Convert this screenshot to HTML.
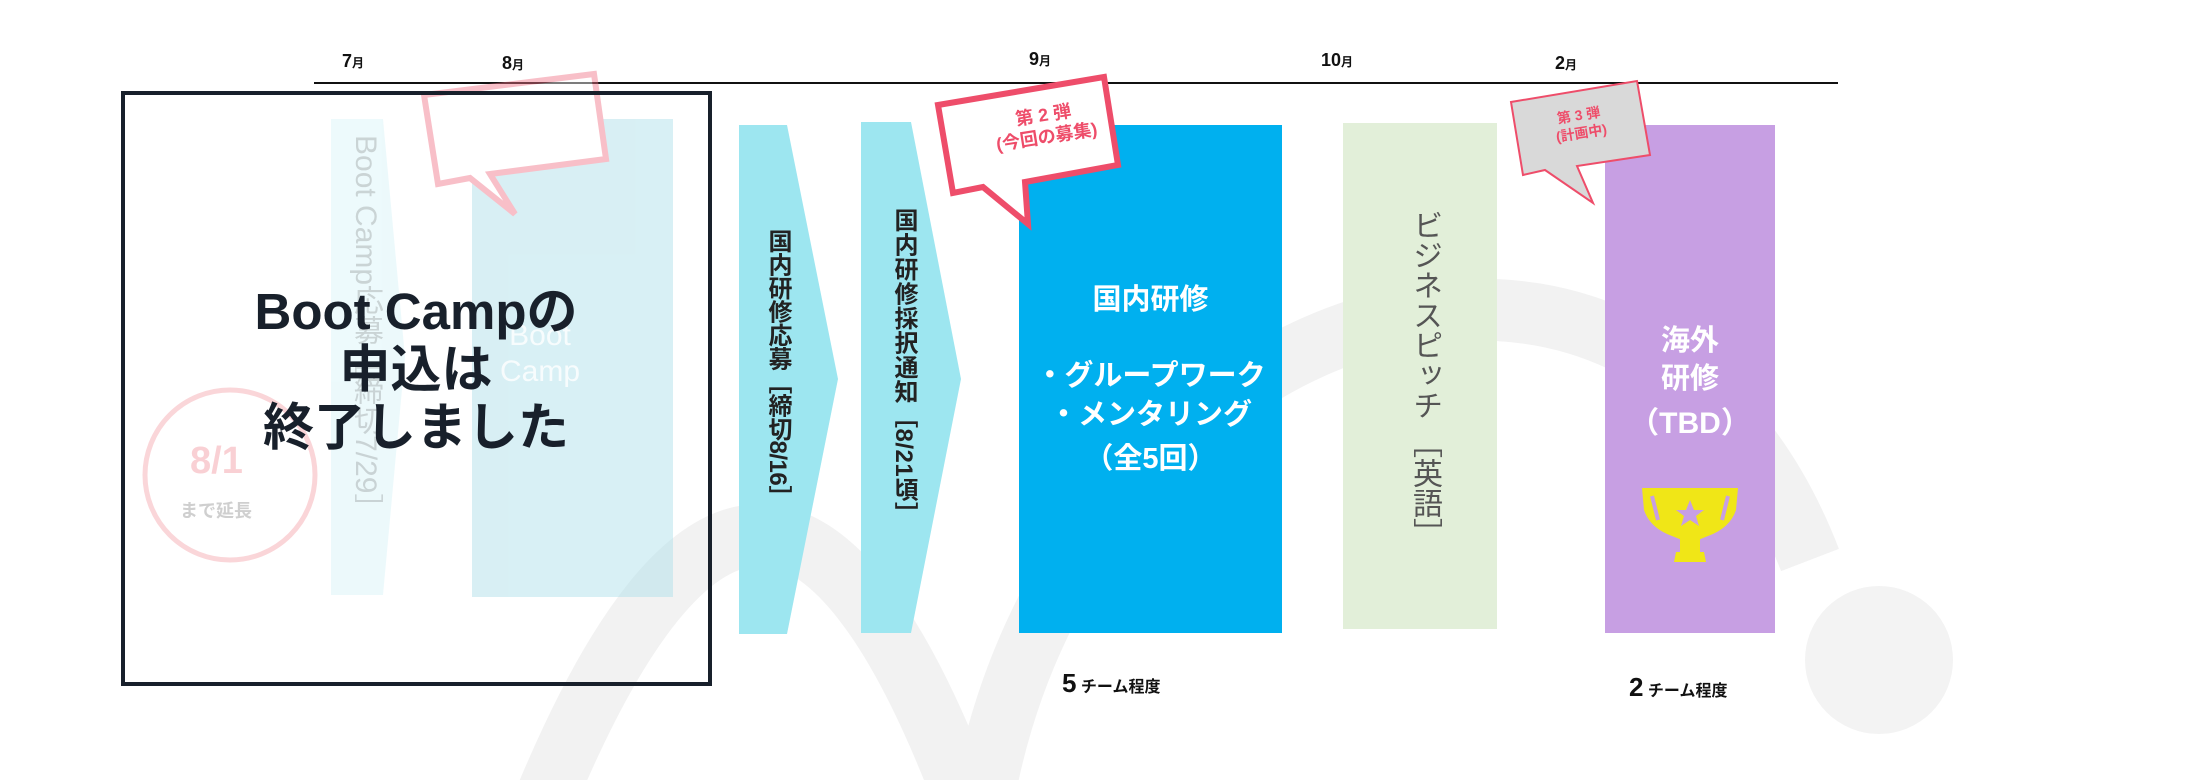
<!DOCTYPE html>
<html><head><meta charset="utf-8"><style>
html,body{margin:0;padding:0;background:#fff;}
#c{position:relative;width:2200px;height:780px;overflow:hidden;font-family:"Liberation Sans","Noto Sans CJK JP",sans-serif;}
.t{position:absolute;white-space:nowrap;}
.v{position:absolute;writing-mode:vertical-rl;white-space:nowrap;}
.m{font-weight:bold;font-size:18px;color:#111;}
.m small{font-size:12px;}
</style></head><body><div id="c">
<svg width="2200" height="780" style="position:absolute;left:0;top:0">
  <!-- background logo shapes -->
  <g fill="none" stroke="#f2f2f2" stroke-width="62">
    <path d="M 545 800 Q 765 270 965 800"/>
    <path d="M 985 790 C 1080 300, 1640 120, 1810 560"/>
  </g>
  <circle cx="1879" cy="660" r="74" fill="#f3f3f3"/>
  <!-- timeline -->
  <line x1="314" y1="83" x2="1838" y2="83" stroke="#111" stroke-width="2"/>
  <!-- faded old content -->
  <g opacity="0.45">
    <polygon points="331,119 383,119 405,357 383,595 331,595" fill="#d6f3f8"/>
    <rect x="472" y="119" width="201" height="478" fill="#a9dde8"/>
    <circle cx="230" cy="475" r="85" fill="none" stroke="#f5a3aa" stroke-width="5"/>
    <polygon points="424,95 594,74 606,159 490,174 515,214 470,178 438,184" fill="#fff" stroke="#f07386" stroke-width="6"/>
  </g>
  <!-- frame -->
  <rect x="123" y="93" width="587" height="591" fill="none" stroke="#18202b" stroke-width="4"/>
  <!-- arrows -->
  <polygon points="739,125 787,125 838,379 787,634 739,634" fill="#9de6f0"/>
  <polygon points="861,122 911,122 961,379 911,633 861,633" fill="#9de6f0"/>
  <!-- boxes -->
  <rect x="1019" y="125" width="263" height="508" fill="#00b0ef"/>
  <rect x="1343" y="123" width="154" height="506" fill="#e2efd9"/>
  <rect x="1605" y="125" width="170" height="508" fill="#c79fe3"/>
  <!-- callout 2 -->
  <polygon points="938,105 1104,77 1118,165 1025,182 1028,224 983,187 953,193" fill="#fff" stroke="#ee4d6a" stroke-width="6" stroke-linejoin="miter"/>
  <!-- callout 3 -->
  <polygon points="1511,102 1637,81 1650,155 1577,166 1593,203 1545,170 1523,175" fill="#d9d9d9" stroke="#ee4d6a" stroke-width="2"/>
  <!-- trophy -->
  <g fill="#f0e617">
    <path d="M1642,488 L1738,488 L1736,510 Q1730,528 1708,536 L1698,540 L1682,540 L1672,536 Q1650,528 1644,510 Z"/>
    <rect x="1680" y="538" width="20" height="14"/>
    <polygon points="1676,552 1704,552 1706,562 1674,562"/>
  </g>
  <path d="M1652,496 L1658,520 M1728,496 L1722,520" stroke="#c79fe3" stroke-width="4"/>
  <polygon points="1690,500 1694,510 1704,510 1696,516 1699,526 1690,520 1681,526 1684,516 1676,510 1686,510" fill="#c79fe3"/>
</svg>

<div class="t m" style="left:342px;top:51px">7<small>月</small></div>
<div class="t m" style="left:502px;top:53px">8<small>月</small></div>
<div class="t m" style="left:1029px;top:49px">9<small>月</small></div>
<div class="t m" style="left:1321px;top:50px">10<small>月</small></div>
<div class="t m" style="left:1555px;top:53px">2<small>月</small></div>

<!-- faded texts -->
<div class="v" style="left:343px;top:135px;font-size:30px;color:#666;opacity:0.25">Boot Camp応募［締切7/29］</div>
<div class="t" style="left:500px;top:318px;font-size:30px;color:#fff;opacity:0.8;line-height:36px;text-align:center">Boot<br>Camp</div>
<div class="t" style="left:190px;top:440px;font-size:38px;font-weight:bold;color:#f5a3aa;opacity:0.5">8/1</div>
<div class="t" style="left:180px;top:497px;font-size:18px;font-weight:bold;color:#888;opacity:0.4">まで延長</div>

<div class="t" style="left:116px;top:283px;width:600px;text-align:center;font-size:51px;font-weight:bold;color:#18202b;line-height:58px">Boot Campの<br>申込は<br>終了しました</div>

<div class="v" style="left:760px;top:229px;font-size:24px;font-weight:bold;color:#222;letter-spacing:-0.5px">国内研修応募［締切8/16］</div>
<div class="v" style="left:886px;top:208px;font-size:24px;font-weight:bold;color:#222;letter-spacing:0.5px">国内研修採択通知［8/21頃］</div>

<div class="t" style="left:960px;top:104px;width:170px;text-align:center;transform:rotate(-9deg);transform-origin:center;font-size:18px;font-weight:bold;color:#ee4d6a;line-height:22px">第 2 弾<br>(今回の募集)</div>
<div class="t" style="left:1520px;top:106px;width:120px;text-align:center;transform:rotate(-9deg);font-size:14px;font-weight:bold;color:#ee4d6a;line-height:18px">第 3 弾<br>(計画中)</div>

<div class="t" style="left:1019px;top:281px;width:263px;text-align:center;font-size:29px;font-weight:bold;color:#fff;line-height:38px">国内研修</div>
<div class="t" style="left:1019px;top:357px;width:263px;text-align:center;font-size:29px;font-weight:bold;color:#fff;line-height:39px">・グループワーク<br>・メンタリング</div>
<div class="t" style="left:1019px;top:440px;width:263px;text-align:center;font-size:29px;font-weight:bold;color:#fff;line-height:38px">（全5回）</div>

<div class="v" style="left:1402px;top:210px;font-size:30px;color:#555">ビジネスピッチ ［英語］</div>

<div class="t" style="left:1605px;top:322px;width:170px;text-align:center;font-size:29px;font-weight:bold;color:#fff;line-height:38px">海外<br>研修</div>
<div class="t" style="left:1605px;top:405px;width:170px;text-align:center;font-size:30px;font-weight:bold;color:#fff;line-height:38px">（TBD）</div>

<div class="t" style="left:1062px;top:668px;color:#111"><b style="font-size:26px">5</b> <span style="font-size:16px;font-weight:bold">チーム程度</span></div>
<div class="t" style="left:1629px;top:672px;color:#111"><b style="font-size:26px">2</b> <span style="font-size:16px;font-weight:bold">チーム程度</span></div>
</div></body></html>
